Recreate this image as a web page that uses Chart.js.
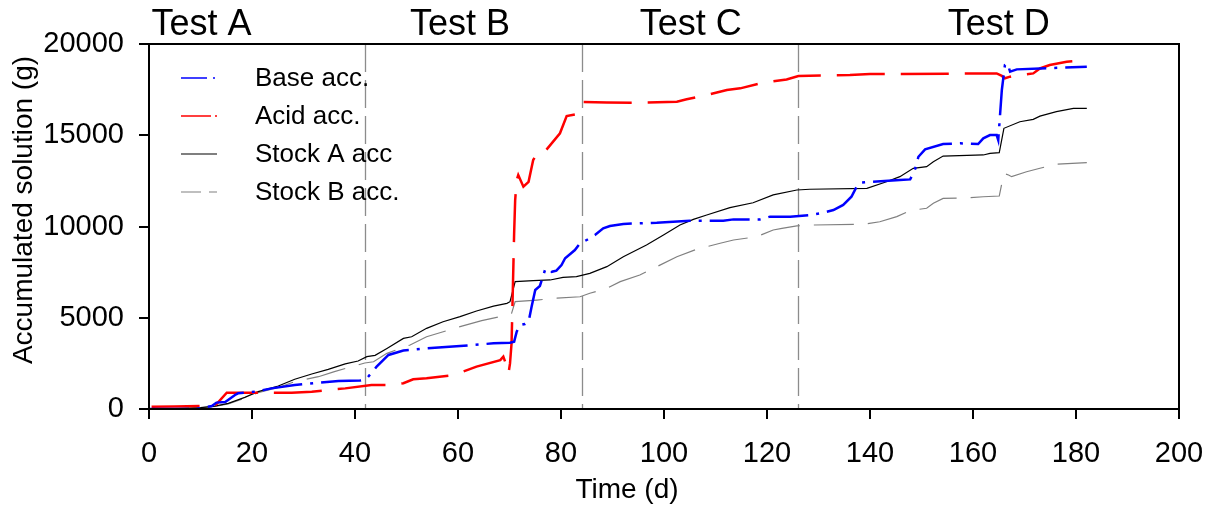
<!DOCTYPE html>
<html>
<head>
<meta charset="utf-8">
<script src="https://cdn.jsdelivr.net/npm/chart.js@4.4.1/dist/chart.umd.min.js"></script>
<style>
  html, body { margin: 0; padding: 0; background: #fff; }
  canvas { display: block; }
</style>
</head>
<body>
<canvas id="accChart" width="1207" height="506"></canvas>
<script>
// data (time in days, accumulated mass in g)
const baseDays = [0, 8.9, 12.2, 13.1, 14.8, 16.7, 17.3, 20.6, 23.8, 28.3, 32.9, 36.8, 41, 42.3, 44.2, 46.5, 49.4, 53.9, 60.4, 66.9, 70.1, 70.9, 71.4, 72, 73, 73.7, 74.3, 75, 75.9, 76.9, 77.5, 78.2, 79.1, 80.1, 80.8, 82.7, 83.7, 85, 86.6, 88.2, 89.5, 92.1, 98.6, 105, 111.5, 113.5, 118.6, 120.6, 124.5, 128.3, 130.3, 132.9, 134.8, 136.4, 137.4, 138.1, 140.6, 145.8, 147.8, 148.7, 149.4, 150.7, 154.2, 157.5, 161, 162, 163.3, 164.6, 164.9, 165.6, 166.2, 166.7, 167.2, 168.5, 173, 182.1];
const baseValues = [0, 0, 160, 350, 380, 770, 860, 950, 1130, 1310, 1440, 1530, 1560, 1680, 2320, 2960, 3200, 3320, 3450, 3600, 3630, 3690, 4240, 4600, 4660, 4780, 5610, 6520, 6740, 7620, 7710, 7520, 7580, 7890, 8260, 8710, 9080, 9260, 9530, 9900, 10030, 10140, 10210, 10320, 10320, 10390, 10390, 10540, 10540, 10630, 10720, 10900, 11180, 11630, 12180, 12400, 12450, 12550, 12580, 13090, 13820, 14230, 14520, 14560, 14520, 14830, 15010, 15010, 14740, 17480, 18850, 18940, 18480, 18610, 18660, 18760];

const acidDays = [0.5, 5, 10, 12.8, 13.2, 15.1, 27.7, 31.6, 38.1, 43.2, 46.8, 49.4, 51.3, 53.9, 59.1, 63.6, 68.2, 68.8, 69.5, 69.8, 70.1, 70.4, 70.6, 70.9, 71.1, 71.4, 71.7, 72.7, 73.7, 74.6, 75.3, 76.6, 79.8, 81.1, 83, 83.7, 84.3, 88.9, 95.3, 102.5, 104.4, 108.3, 112.2, 114.8, 119.3, 123.8, 126.1, 136.1, 140, 164.6, 165.6, 166.2, 167.2, 167.8, 171.7, 173, 174.9, 178.2, 182.1];
const acidValues = [120, 140, 160, 180, 300, 890, 890, 950, 1130, 1310, 1310, 1410, 1630, 1680, 1860, 2320, 2680, 2870, 2320, 1950, 2500, 3600, 5970, 9630, 11450, 12550, 12820, 12180, 12450, 13640, 13970, 14010, 15110, 16050, 16160, 16560, 16820, 16800, 16780, 16840, 16970, 17200, 17480, 17570, 17880, 18060, 18250, 18300, 18350, 18390, 18250, 18120, 18210, 18250, 18390, 18660, 18850, 19030, 19120];

const stockADays = [0, 5, 10, 12.8, 15.4, 18.6, 21.2, 25.1, 28.3, 31.6, 34.8, 38.1, 40.6, 42.3, 43.9, 46.2, 49.4, 51, 53.9, 57.1, 60.4, 63.6, 66.9, 69.5, 70.1, 71.1, 74.6, 77.9, 80.4, 83, 85.6, 88.9, 92.1, 96.6, 99.9, 103.1, 105.7, 108.3, 112.8, 117.3, 121.2, 125.8, 128.3, 139.4, 143.2, 145.8, 148.4, 151, 152.3, 154.2, 162, 163.3, 165.1, 166, 169.1, 171.7, 173, 176.2, 179.5, 182.1];
const stockAValues = [0, 20, 80, 160, 310, 640, 950, 1260, 1630, 1920, 2170, 2470, 2630, 2870, 2940, 3320, 3870, 3960, 4420, 4780, 5060, 5370, 5640, 5790, 5880, 6980, 7030, 7070, 7210, 7250, 7430, 7800, 8340, 8990, 9530, 10080, 10390, 10630, 11030, 11300, 11730, 12000, 12040, 12090, 12450, 12730, 13190, 13280, 13550, 13860, 13920, 14010, 14050, 15380, 15740, 15870, 16050, 16290, 16470, 16470];

const stockBDays = [0, 5, 10, 12.8, 15.4, 18.6, 21.2, 25.1, 28.3, 32.9, 36, 39.4, 41.9, 43.6, 46.2, 50.7, 53.9, 60.4, 64.6, 69.5, 70.4, 71.1, 75.3, 79.2, 83.7, 85.6, 88.9, 91.5, 95.3, 98.6, 102.5, 106.3, 110.9, 113.5, 118, 121.2, 122.9, 125.8, 128.3, 138.7, 141.9, 145.2, 147.8, 151, 152.3, 154.2, 158.1, 162, 165.1, 166, 166.9, 167.5, 170.4, 173, 176.2, 182.1];
const stockBValues = [0, 20, 60, 140, 280, 600, 900, 1180, 1500, 1770, 2050, 2320, 2520, 2590, 3050, 3510, 3960, 4510, 4840, 5150, 5240, 5880, 5970, 6070, 6150, 6340, 6610, 6980, 7340, 7800, 8340, 8750, 9080, 9260, 9440, 9810, 9900, 10030, 10080, 10120, 10260, 10540, 10870, 11000, 11270, 11540, 11560, 11630, 11670, 12910, 12820, 12730, 13000, 13190, 13420, 13500];

const seriesNames = ['Base acc.', 'Acid acc.', 'Stock A acc', 'Stock B acc.'];
const testNames = ['Test A', 'Test B', 'Test C', 'Test D'];
const testCenterDays = [10.2, 60.4, 105.2, 165];
const phaseBoundaryDays = [42, 84, 126];

const xTicks = [0, 20, 40, 60, 80, 100, 120, 140, 160, 180, 200];
const yTicks = [0, 5000, 10000, 15000, 20000];

const FONT = '"Liberation Sans", Arial, Helvetica, sans-serif';

function toPoints(xs, ys) {
    return xs.map((x, i) => ({ x: x, y: ys[i] }));
}

// gray dashed phase boundaries, the box, the test labels, legend and axis titles
const decorPlugin = {
    id: 'decor',
    beforeDatasetsDraw(chart) {
        const { ctx, chartArea, scales } = chart;
        ctx.save();
        ctx.strokeStyle = '#8c8c8c';
        ctx.lineWidth = 1.3;
        ctx.setLineDash([28, 8]);
        phaseBoundaryDays.forEach(d => {
            const px = Math.round(scales.x.getPixelForValue(d)) + 0.5;
            ctx.beginPath();
            ctx.moveTo(px, chartArea.top);
            ctx.lineTo(px, chartArea.bottom);
            ctx.stroke();
        });
        ctx.restore();
    },
    afterDraw(chart) {
        const { ctx, chartArea, scales } = chart;
        ctx.save();

        // frame
        ctx.strokeStyle = '#000';
        ctx.lineWidth = 2;
        ctx.setLineDash([]);
        ctx.strokeRect(chartArea.left, chartArea.top, chartArea.right - chartArea.left, chartArea.bottom - chartArea.top);

        // test labels above the plot
        ctx.fillStyle = '#000';
        ctx.font = '36px ' + FONT;
        ctx.textAlign = 'center';
        ctx.textBaseline = 'alphabetic';
        testNames.forEach((name, i) => {
            ctx.fillText(name, scales.x.getPixelForValue(testCenterDays[i]), 35);
        });

        // legend
        ctx.font = '26px ' + FONT;
        ctx.textAlign = 'left';
        ctx.textBaseline = 'middle';
        chart.data.datasets.forEach((ds, i) => {
            const y = 78 + i * 38;
            ctx.strokeStyle = ds.borderColor;
            ctx.lineWidth = Math.min(ds.borderWidth, 1.6);
            ctx.setLineDash(ds.legendDash || []);
            ctx.beginPath();
            ctx.moveTo(181, y);
            ctx.lineTo(217, y);
            ctx.stroke();
            ctx.setLineDash([]);
            ctx.fillStyle = '#000';
            ctx.fillText(ds.label, 255, y + 1);
        });

        // axis titles
        ctx.font = '28px ' + FONT;
        ctx.textAlign = 'center';
        ctx.fillText('Time (d)', 627, 490);
        ctx.translate(24, 210);
        ctx.rotate(-Math.PI / 2);
        ctx.fillText('Accumulated solution (g)', 0, 0);
        ctx.restore();
    }
};

const ctx = document.getElementById('accChart').getContext('2d');
new Chart(ctx, {
    type: 'line',
    data: {
        datasets: [
            {
                label: seriesNames[0],
                data: toPoints(baseDays, baseValues),
                borderColor: '#0000ff',
                borderWidth: 2.5,
                borderDash: [40, 8, 3, 8],
                legendDash: [26, 6, 2, 6]
            },
            {
                label: seriesNames[1],
                data: toPoints(acidDays, acidValues),
                borderColor: '#ff0000',
                borderWidth: 2.5,
                borderDash: [48, 16],
                legendDash: [30, 4, 2, 4]
            },
            {
                label: seriesNames[2],
                data: toPoints(stockADays, stockAValues),
                borderColor: '#000000',
                borderWidth: 1.2
            },
            {
                label: seriesNames[3],
                data: toPoints(stockBDays, stockBValues),
                borderColor: '#808080',
                borderWidth: 1.2,
                borderDash: [40, 14],
                legendDash: [20, 8]
            }
        ]
    },
    options: {
        responsive: false,
        animation: false,
        events: [],
        layout: { padding: { top: 44, right: 28, left: 0, bottom: 0 } },
        elements: {
            point: { radius: 0 },
            line: { tension: 0, fill: false }
        },
        plugins: {
            legend: { display: false },
            tooltip: { enabled: false }
        },
        scales: {
            x: {
                type: 'linear',
                min: 0,
                max: 200,
                afterBuildTicks: axis => { axis.ticks = xTicks.map(v => ({ value: v })); },
                afterFit: axis => { axis.height = 97; axis.paddingLeft = 0; axis.paddingRight = 0; },
                grid: { drawOnChartArea: false, tickLength: 10, color: '#000', lineWidth: 2 },
                border: { color: '#000', width: 2 },
                ticks: {
                    color: '#000',
                    padding: 18,
                    maxRotation: 0,
                    font: { family: FONT, size: 29 },
                    callback: v => String(v)
                }
            },
            y: {
                type: 'linear',
                min: 0,
                max: 20000,
                afterBuildTicks: axis => { axis.ticks = yTicks.map(v => ({ value: v })); },
                afterFit: axis => { axis.width = 149; axis.paddingTop = 0; axis.paddingBottom = 0; },
                grid: { drawOnChartArea: false, tickLength: 10, color: '#000', lineWidth: 2 },
                border: { color: '#000', width: 2 },
                ticks: {
                    color: '#000',
                    padding: 15,
                    font: { family: FONT, size: 29 },
                    callback: v => String(v)
                }
            }
        }
    },
    plugins: [decorPlugin]
});
</script>
</body>
</html>
